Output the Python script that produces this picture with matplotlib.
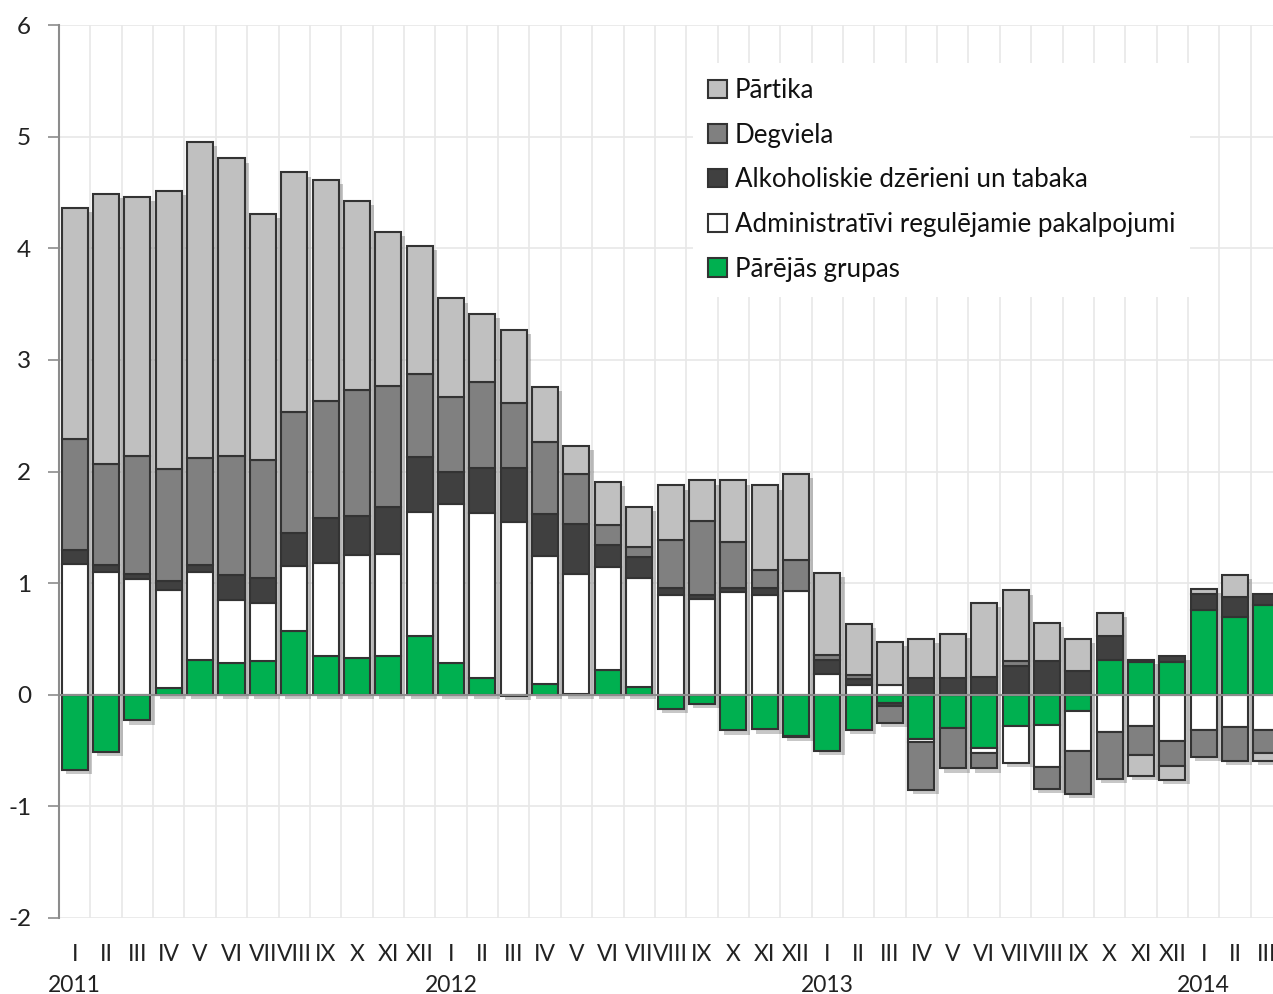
import numpy as np
import matplotlib
matplotlib.use('Agg')
import matplotlib.pyplot as plt
import matplotlib.patheffects as pe

plt.rcParams['font.family'] = ['Lato', 'DejaVu Sans']
plt.rcParams['axes.unicode_minus'] = False

months = ['I', 'II', 'III', 'IV', 'V', 'VI', 'VII', 'VIII', 'IX', 'X', 'XI', 'XII'] * 3 + ['I', 'II', 'III']
years = ['2011', '2012', '2013', '2014']

# contributions, percentage points
partika = [2.07, 2.415, 2.32, 2.49, 2.835, 2.665, 2.21, 2.15, 1.98, 1.695, 1.38, 1.15,
           0.88, 0.61, 0.66, 0.50, 0.25, 0.39, 0.36, 0.485, 0.365, 0.55, 0.755, 0.77,
           0.73, 0.46, 0.388, 0.354, 0.397, 0.665, 0.63, 0.345, 0.29, 0.20, -0.193, -0.124,
           0.046, 0.195, -0.07]
degviela = [0.99, 0.905, 1.055, 1.0, 0.955, 1.07, 1.05, 1.08, 1.05, 1.13, 1.09, 0.74,
            0.67, 0.77, 0.58, 0.64, 0.45, 0.18, 0.09, 0.43, 0.66, 0.41, 0.16, 0.28,
            0.05, 0.036, -0.15, -0.43, -0.365, -0.14, 0.045, -0.195, -0.39, -0.425, -0.253, -0.23,
            -0.24, -0.30, -0.20]
alkohols = [0.13, 0.065, 0.045, 0.08, 0.065, 0.22, 0.23, 0.30, 0.40, 0.35, 0.42, 0.49,
            0.29, 0.40, 0.48, 0.38, 0.45, 0.20, 0.18, 0.065, 0.035, 0.04, 0.065, -0.01,
            0.12, 0.056, -0.025, 0.146, 0.146, 0.155, 0.26, 0.30, 0.21, 0.22, 0.018, 0.05,
            0.14, 0.175, 0.10]
admin = [1.17, 1.10, 1.04, 0.883, 0.79, 0.57, 0.52, 0.58, 0.83, 0.925, 0.91, 1.11,
         1.43, 1.48, 1.55, 1.14, 1.07, 0.92, 0.98, 0.895, 0.86, 0.92, 0.895, 0.93,
         0.19, 0.084, 0.087, -0.02, 0.0, -0.04, -0.33, -0.375, -0.35, -0.33, -0.284, -0.41,
         -0.32, -0.29, -0.32]
citas = [-0.67, -0.51, -0.23, 0.057, 0.31, 0.28, 0.30, 0.57, 0.35, 0.325, 0.35, 0.53,
         0.28, 0.15, -0.01, 0.10, 0.01, 0.22, 0.07, -0.13, -0.08, -0.32, -0.31, -0.37,
         -0.50, -0.316, -0.075, -0.40, -0.295, -0.48, -0.28, -0.275, -0.15, 0.31, 0.295, 0.295,
         0.76, 0.70, 0.80]

names = ['Pārtika', 'Degviela', 'Alkoholiskie dzērieni un tabaka',
         'Administratīvi regulējamie pakalpojumi', 'Pārējās grupas']
colors = ['#c0c0c0', '#808080', '#404040', '#ffffff', '#00b050']

# stacking order from zero outwards
stack = [(citas, 4), (admin, 3), (alkohols, 2), (degviela, 1), (partika, 0)]

x = np.arange(len(months))
width = 0.83

fig = plt.figure(figsize=(12.73, 9.94), dpi=100)
ax = fig.add_axes([59 / 1273, 76 / 994, 1 - 59 / 1273, 893 / 994])

pos = np.zeros(len(x))
neg = np.zeros(len(x))
handles = {}
for vals, k in stack:
    v = np.array(vals)
    bottom = np.where(v >= 0, pos, neg)
    b = ax.bar(x, v, width, bottom=bottom, color=colors[k], edgecolor='#333333',
               linewidth=1.5, zorder=3, label=names[k])
    handles[k] = b
    pos = pos + np.where(v >= 0, v, 0)
    neg = neg + np.where(v < 0, v, 0)

# soft shadow behind each whole bar
ax.bar(x, pos - neg, width, bottom=neg, color='none', edgecolor='none', zorder=2,
       path_effects=[pe.SimplePatchShadow(offset=(3, -3), shadow_rgbFace='#000000', alpha=0.22)])

ax.axhline(0, color='#8c8c8c', linewidth=1.5, zorder=4)

ax.set_ylim(-2, 6)
ax.set_xlim(-0.5, 38.21)
ax.set_yticks(range(-2, 7))
ax.tick_params(axis='y', direction='out', length=8, width=1.2, color='#8c8c8c',
               labelsize=17.5, pad=12, labelcolor='#222222')

labels = [m + ('\n' + years[i // 12] if m == 'I' else '') for i, m in enumerate(months)]
ax.set_xticks(x)
ax.set_xticklabels(labels, fontsize=16.5, color='#222222', linespacing=1.55)
ax.set_xticks(x[:-1] + 0.5, minor=True)
ax.tick_params(axis='x', which='both', length=0, pad=19)

ax.grid(axis='y', color='#e8e8e8', linewidth=1.2, zorder=0)
ax.grid(axis='x', which='minor', color='#e8e8e8', linewidth=1.2, zorder=0)
ax.set_axisbelow(True)

for s in ['top', 'right', 'bottom']:
    ax.spines[s].set_visible(False)
ax.spines['left'].set_color('#8c8c8c')
ax.spines['left'].set_linewidth(1.5)

leg = ax.legend([handles[k] for k in range(5)], names, loc='upper left',
                bbox_to_anchor=(0.522, 0.958), fontsize=18.6, frameon=True,
                facecolor='white', edgecolor='none', framealpha=1, fancybox=False,
                handlelength=0.72, handleheight=0.72, handletextpad=0.3,
                labelspacing=0.76, borderpad=0.6, borderaxespad=0)
leg.set_zorder(5)
for t in leg.get_texts():
    t.set_color('#111111')

fig.savefig('out.png', dpi=100)
